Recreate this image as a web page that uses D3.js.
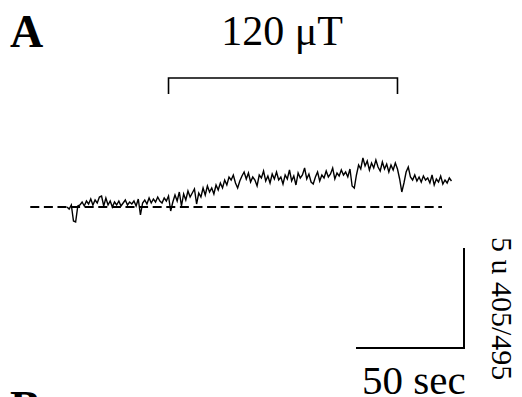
<!DOCTYPE html>
<html>
<head>
<meta charset="utf-8">
<script src="https://cdn.jsdelivr.net/npm/d3@7"></script>
<style>
  html, body { margin: 0; padding: 0; background: #fff; }
  svg { display: block; }
</style>
</head>
<body>
<svg id="chart" width="522" height="397"></svg>
<script>
// ---- data ----
// ratio 405/495 (arbitrary units above baseline), one sample per second
const trace = [
  0.0, -0.1, 0.1, -0.7, -0.75, 0.05, 0.1, 0.25, 0.05, 0.3,
  0.15, 0.4, 0.1, 0.35, 0.2, 0.5, 0.55, 0.05, 0.45, 0.1,
  0.3, 0.0, 0.25, 0.1, 0.3, 0.05, 0.2, 0.35, 0.1, 0.25,
  0.15, 0.3, 0.05, 0.4, -0.4, 0.2, 0.35, 0.15, 0.45, 0.2,
  0.4, 0.25, 0.5, 0.3, 0.2, 0.45, 0.3, 0.55, -0.2, 0.25,
  0.6, 0.3, 0.75, 0.05, 0.65, 0.35, 0.8, 0.5, 0.7, 0.9,
  0.15, 0.7, 0.5, 0.95, 0.6, 1.05, 0.75, 0.95, 0.65, 1.1,
  0.85, 1.2, 0.95, 1.35, 1.1, 1.5, 1.35, 1.6, 1.2, 0.95,
  1.3, 1.55, 1.75, 1.4, 1.7, 1.25, 1.5, 1.35, 1.05, 1.6,
  1.45, 1.8, 1.3, 1.55, 1.2, 1.65, 1.4, 1.75, 1.35, 1.5,
  1.15, 1.6, 1.4, 1.85, 1.3, 1.55, 1.1, 1.7, 1.45, 1.6,
  1.95, 1.4, 1.65, 1.25, 1.15, 1.5, 1.75, 1.3, 1.6, 1.45,
  1.8, 1.5, 1.65, 1.95, 1.4, 1.7, 1.55, 1.85, 1.6, 1.75,
  1.5, 1.9, 1.05, 0.95, 1.6, 2.1, 1.9, 2.45, 2.05, 2.3,
  1.85, 2.2, 1.95, 2.35, 2.0, 1.8, 2.25, 1.9, 2.15, 1.75,
  2.1, 1.85, 2.2, 1.9, 1.4, 0.75, 1.2, 1.75, 2.0, 1.5,
  1.35, 1.6, 1.3, 1.5, 1.25, 1.55, 1.35, 1.45, 1.2, 1.6,
  1.1, 1.4, 1.25, 1.55, 1.15, 1.35, 1.2, 1.45, 1.3
];
const stimulus = [47, 153];          // seconds: field on / off
const stimulusLabel = "120 \u03bcT";
const baseline = [-17, 173.6];       // seconds span of dashed baseline
const scaleBarTime = 50;             // sec
const scaleBarRatio = 5;             // units
const timeLabel = "50 sec";
const ratioLabel = "5 u 405/495";
const panelLabels = ["A", "B"];

// ---- scales ----
const pxPerSec = 2.16;
const x = d3.scaleLinear().domain([0, trace.length - 1])
  .range([67, 67 + (trace.length - 1) * pxPerSec]);
const y = d3.scaleLinear().domain([0, 5]).range([207, 107]);

const svg = d3.select("#chart");
const serif = "'Liberation Serif', 'Times New Roman', serif";

// panel labels
svg.append("text").attr("x", 10).attr("y", 47)
  .attr("font-family", serif).attr("font-weight", "bold").attr("font-size", 46)
  .text(panelLabels[0]);
svg.append("text").attr("x", 10).attr("y", 423)
  .attr("font-family", serif).attr("font-weight", "bold").attr("font-size", 46)
  .text(panelLabels[1]);

// stimulus bracket
const by = 78, bt = 94;
svg.append("path")
  .attr("d", `M${x(stimulus[0])},${bt}V${by}H${x(stimulus[1])}V${bt}`)
  .attr("fill", "none").attr("stroke", "#000").attr("stroke-width", 1.6);
svg.append("text")
  .attr("x", (x(stimulus[0]) + x(stimulus[1])) / 2 - 1).attr("y", 45)
  .attr("text-anchor", "middle")
  .attr("font-family", serif).attr("font-size", 42)
  .text(stimulusLabel);

// dashed baseline
svg.append("line")
  .attr("x1", x(baseline[0])).attr("x2", x(baseline[1]))
  .attr("y1", y(0)).attr("y2", y(0))
  .attr("stroke", "#000").attr("stroke-width", 1.8)
  .attr("stroke-dasharray", "9,4.6");

// trace
svg.append("path")
  .datum(trace)
  .attr("d", d3.line().x((d, i) => x(i)).y(d => y(d)))
  .attr("fill", "none").attr("stroke", "#000").attr("stroke-width", 1.4)
  .attr("stroke-linejoin", "miter");

// scale bars
const sx = 464, sy = 348;
const wBar = x(scaleBarTime) - x(0);
const hBar = y(0) - y(scaleBarRatio);
svg.append("path")
  .attr("d", `M${sx - wBar},${sy}H${sx}V${sy - hBar}`)
  .attr("fill", "none").attr("stroke", "#000").attr("stroke-width", 2);
svg.append("text").attr("x", 362).attr("y", 394)
  .attr("font-family", serif).attr("font-size", 41)
  .text(timeLabel);
svg.append("text")
  .attr("transform", "translate(492,237) rotate(90)")
  .attr("font-family", serif).attr("font-size", 30)
  .text(ratioLabel);
</script>
</body>
</html>
